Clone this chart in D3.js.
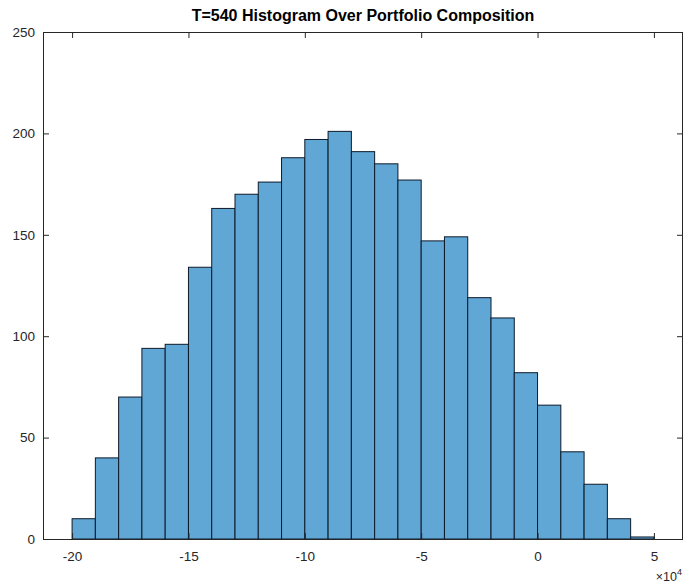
<!DOCTYPE html>
<html>
<head>
<meta charset="utf-8">
<script src="https://cdn.jsdelivr.net/npm/d3@7"></script>
<style>
  html, body { margin: 0; padding: 0; background: #fff; }
  svg { display: block; font-family: "Liberation Sans", Arial, Helvetica, sans-serif; }
</style>
</head>
<body>
<svg id="chart" width="685" height="587"></svg>
<script>
// Histogram bins (units of 1e4) and their counts
const binLower = [-20, -19, -18, -17, -16, -15, -14, -13, -12, -11, -10, -9, -8, -7, -6, -5, -4, -3, -2, -1, 0, 1, 2, 3, 4];
const binUpper = [-19, -18, -17, -16, -15, -14, -13, -12, -11, -10, -9, -8, -7, -6, -5, -4, -3, -2, -1, 0, 1, 2, 3, 4, 5];
const counts   = [10, 40, 70, 94, 96, 134, 163, 170, 176, 188, 197, 201, 191, 185, 177, 147, 149, 119, 109, 82, 66, 43, 27, 10, 1];

const xTicks = [-20, -15, -10, -5, 0, 5];
const yTicks = [0, 50, 100, 150, 200, 250];
const titleText = "T=540 Histogram Over Portfolio Composition";

const width = 685, height = 587;
const margin = { top: 32, right: 2, bottom: 48, left: 43 };
const innerW = width - margin.left - margin.right;
const innerH = height - margin.top - margin.bottom;

const svg = d3.select("#chart");
const g = svg.append("g").attr("transform", `translate(${margin.left},${margin.top})`);

const x = d3.scaleLinear().domain([-21.25, 6.25]).range([0, innerW]);
const y = d3.scaleLinear().domain([0, 250]).range([innerH, 0]);

const axisColor = "#262626";
const tickLen = 6;
const labelSize = 13.5;

// bars
const bins = binLower.map((lo, i) => ({ lo, hi: binUpper[i], n: counts[i] }));
g.selectAll("rect.bar")
  .data(bins)
  .join("rect")
  .attr("class", "bar")
  .attr("x", d => x(d.lo))
  .attr("width", d => x(d.hi) - x(d.lo))
  .attr("y", d => y(d.n))
  .attr("height", d => y(0) - y(d.n))
  .attr("fill", "rgb(97,167,214)")
  .attr("stroke", "#0d1a2a")
  .attr("stroke-width", 1);

// axes (ticks point inward on all four sides)
const fmt = d => String(d);
const bottomAxis = d3.axisBottom(x).tickValues(xTicks).tickSizeInner(-tickLen).tickSizeOuter(0).tickPadding(12).tickFormat(fmt);
const topAxis = d3.axisTop(x).tickValues(xTicks).tickSizeInner(-tickLen).tickSizeOuter(0).tickFormat("");
const leftAxis = d3.axisLeft(y).tickValues(yTicks).tickSizeInner(-tickLen).tickSizeOuter(0).tickPadding(8).tickFormat(fmt);
const rightAxis = d3.axisRight(y).tickValues(yTicks).tickSizeInner(-tickLen).tickSizeOuter(0).tickFormat("");

function style(sel) {
  sel.select(".domain").remove();
  sel.selectAll("line").attr("stroke", axisColor).attr("stroke-width", 1);
  sel.selectAll("text").attr("fill", axisColor).attr("font-size", labelSize);
}

g.append("g").attr("transform", `translate(0,${innerH})`).call(bottomAxis).call(style);
g.append("g").call(topAxis).call(style);
g.append("g").call(leftAxis).call(style);
g.append("g").attr("transform", `translate(${innerW},0)`).call(rightAxis).call(style);

// axes box
g.append("rect")
  .attr("x", 0.5).attr("y", 0.5)
  .attr("width", innerW - 1).attr("height", innerH)
  .attr("fill", "none")
  .attr("stroke", axisColor)
  .attr("stroke-width", 1);

// exponent label
const expo = g.append("text")
  .attr("x", innerW - 1)
  .attr("y", innerH + 42)
  .attr("text-anchor", "end")
  .attr("fill", axisColor)
  .attr("font-size", 12.5);
expo.append("tspan").text("\u00d710");
expo.append("tspan").attr("dy", -6).attr("font-size", 9).text("4");

// title
svg.append("text")
  .attr("x", margin.left + innerW / 2)
  .attr("y", 21)
  .attr("text-anchor", "middle")
  .attr("font-weight", "bold")
  .attr("font-size", 16)
  .attr("fill", "#000")
  .text(titleText);
</script>
</body>
</html>
